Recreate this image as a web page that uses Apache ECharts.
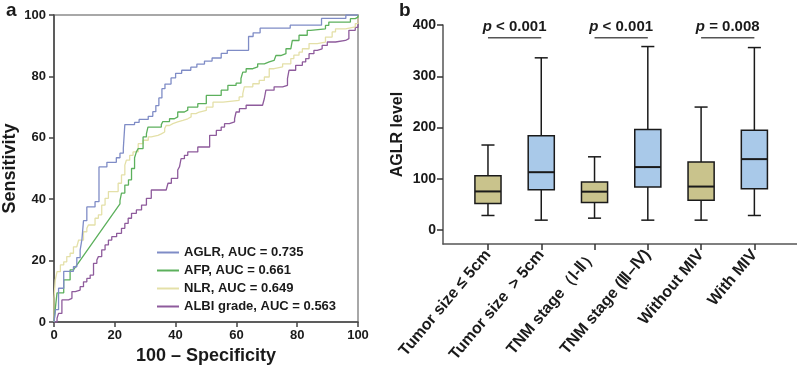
<!DOCTYPE html>
<html><head><meta charset="utf-8">
<script src="https://cdn.jsdelivr.net/npm/echarts@6/dist/echarts.min.js"></script>
<style>html,body{margin:0;padding:0;background:#fff}#c{width:797px;height:372px}</style>
</head><body><div id="c"></div>
<script>
// ---------- Panel a: ROC curves (100 - specificity, sensitivity) ----------
const rocNames = ['AGLR, AUC = 0.735', 'AFP, AUC = 0.661', 'NLR, AUC = 0.649', 'ALBI grade, AUC = 0.563'];
const rocTicks = [0, 20, 40, 60, 80, 100];
const aglr = [[0,0],[0.5,0],[0.5,4],[1.5,4],[1.5,11],[3.2,11],[3.2,16.5],[6.4,16.5],[6.4,18],[7.5,18],[7.5,21],[8.6,21],[8.6,23.4],[9.2,23.4],[9.2,27],[9.7,27],[9.7,33],[10.8,33],[10.8,37.5],[13.5,37.5],[13.5,39.2],[14.8,39.2],[14.8,50.5],[17.4,50.5],[17.4,52],[20.5,52],[20.5,53.5],[21.7,53.5],[21.7,55],[22.8,55],[22.8,56.5],[23.3,56.5],[23.3,64.3],[26.5,64.3],[26.5,65],[28,65],[28,66],[31,66],[31,67],[32.5,67],[32.5,68.5],[33.5,68.5],[33.5,70.5],[34.5,70.5],[34.5,73],[35.5,73],[35.5,76],[36.5,76],[36.5,77.5],[38.5,77.5],[38.5,79.5],[40,79.5],[40,81],[42,81],[42,82],[45,82],[45,83],[47,83],[47,84],[49.5,84],[49.5,85],[52,85],[52,86],[55,86],[55,87.5],[57,87.5],[57,88.5],[64,88.5],[64,93],[65.5,93],[65.5,94.2],[67.8,94.2],[67.8,95.7],[77.7,95.7],[77.7,96.7],[88,96.7],[88,98.9],[96,98.9],[96,100],[100,100]];
const afp = [[0,0],[0.5,0],[0.5,5],[1,5],[1,9.5],[3.2,9.5],[3.2,13.7],[5.3,13.7],[5.3,17],[6.4,17],[21.7,38.5],[21.7,39.5],[22.2,39.5],[22.2,42],[23.3,42],[23.3,44.6],[24.5,44.6],[24.5,46.3],[25.5,46.3],[25.5,50],[26.5,50],[26.5,53.5],[27.1,53.5],[27.1,55.4],[27.7,55.4],[27.7,56.5],[29.3,56.5],[29.3,60.3],[30.4,60.3],[30.4,61.3],[30.9,61.3],[30.9,63.5],[35.3,63.5],[35.3,64.3],[35.8,64.3],[35.8,65.3],[38,65.3],[38,66.2],[39.6,66.2],[39.6,66.8],[40.7,66.8],[40.7,68.4],[42.9,68.4],[42.9,69],[44,69],[44,70],[47.3,70],[47.3,71.1],[50.1,71.1],[50.1,73.8],[55,73.8],[55,75.5],[57.2,75.5],[57.2,77.1],[59.9,77.1],[59.9,77.8],[61.5,77.8],[61.5,79.3],[62.1,79.3],[62.1,81.4],[63.2,81.4],[63.2,82.5],[65.4,82.5],[65.4,83.1],[67,83.1],[67,84.1],[69.2,84.1],[69.2,84.7],[70.8,84.7],[70.8,85.2],[72.4,85.2],[72.4,85.8],[73,85.8],[73,86.8],[74.6,86.8],[74.6,87.4],[76.3,87.4],[76.3,89],[77.9,89],[77.9,89.6],[78.4,89.6],[78.4,91.7],[80.6,91.7],[80.6,93.4],[83.3,93.4],[83.3,95],[84.4,95],[84.4,95.5],[89.3,95.5],[89.3,96.6],[90.4,96.6],[90.4,97.7],[97.5,97.7],[97.5,98.8],[99.1,98.8],[99.1,99.3],[100,99.3],[100,100]];
const nlr = [[0,0],[0,7.7],[0.4,7.7],[0.4,13.6],[1,13.6],[1,16.4],[2.1,16.4],[2.1,18.6],[3.2,18.6],[3.2,19.6],[4.2,19.6],[4.2,21.3],[5.3,21.3],[5.3,22.4],[6.4,22.4],[6.4,24.5],[7.5,24.5],[7.5,25],[8.1,25],[8.1,26.7],[9.7,26.7],[9.7,29.4],[10.8,29.4],[10.8,30.5],[11.3,30.5],[11.3,31.6],[13.5,31.6],[13.5,33.8],[14.6,33.8],[14.6,34.9],[15.7,34.9],[15.7,38.1],[16.8,38.1],[16.8,40.3],[17.9,40.3],[17.9,42.5],[21.1,42.5],[21.1,45.2],[22.2,45.2],[22.2,47.9],[23.3,47.9],[23.3,51.1],[23.8,51.1],[23.8,52.7],[24.9,52.7],[24.9,54.3],[26,54.3],[26,55.4],[27.7,55.4],[27.7,58.1],[29.3,58.1],[29.3,59.2],[31,59.2],[31,60.3],[32,60.3],[32,60.8],[34.2,60.8],[34.2,61.3],[35.3,61.3],[35.3,61.9],[36.4,61.9],[36.4,63],[36.9,63],[36.9,64],[38,64],[38,64.6],[39.1,64.6],[39.1,65.2],[40.7,65.2],[40.7,65.7],[42.4,65.7],[42.4,66.2],[44,66.2],[44,66.8],[45.1,66.8],[45.1,67.9],[46.7,67.9],[46.7,68.4],[47.8,68.4],[47.8,68.9],[50.1,68.9],[50.1,70],[52.3,70],[52.3,71.6],[55.6,71.6],[55.6,72.2],[60.9,72.2],[60.9,73.3],[62.1,73.3],[62.1,74.4],[62.6,74.4],[62.6,76.6],[65.4,76.6],[65.4,77.6],[67.5,77.6],[67.5,78.7],[69.2,78.7],[69.2,79.8],[70.8,79.8],[70.8,82.5],[72.4,82.5],[72.4,83.1],[75.2,83.1],[75.2,84.1],[77.9,84.1],[77.9,85.8],[78.9,85.8],[78.9,86.9],[80.6,86.9],[80.6,87.9],[81.7,87.9],[81.7,89],[83.9,89],[83.9,90.7],[86.6,90.7],[86.6,91.2],[89.3,91.2],[89.3,92.8],[91.5,92.8],[91.5,94.5],[92.6,94.5],[92.6,95.5],[95.9,95.5],[95.9,96.1],[99.1,96.1],[99.1,97.2],[100,97.2],[100,100]];
const albi = [[0,0],[1,0],[1,1.2],[1.5,1.2],[1.5,2.8],[2.6,2.8],[2.6,7.2],[4.8,7.2],[4.8,7.7],[5.9,7.7],[5.9,9.9],[7,9.9],[7,10.4],[8.6,10.4],[8.6,11.5],[9.7,11.5],[9.7,13.1],[10.8,13.1],[10.8,14.2],[11.9,14.2],[11.9,15.3],[13,15.3],[13,19.1],[14.1,19.1],[14.1,20.2],[14.6,20.2],[14.6,21.3],[15.7,21.3],[15.7,23.5],[16.8,23.5],[16.8,25.1],[17.9,25.1],[17.9,26.7],[19,26.7],[19,27.8],[20.6,27.8],[20.6,28.9],[22.2,28.9],[22.2,30.5],[23.3,30.5],[23.3,32.1],[24.4,32.1],[24.4,33.8],[25.5,33.8],[25.5,35.4],[27.1,35.4],[27.1,36.5],[28.8,36.5],[28.8,38.1],[30.4,38.1],[30.4,40.3],[32,40.3],[32,43],[36.9,43],[36.9,43.5],[37.5,43.5],[37.5,45.2],[38.6,45.2],[38.6,46.8],[40.7,46.8],[40.7,49.5],[41.3,49.5],[41.3,50.6],[41.8,50.6],[41.8,53.2],[42.9,53.2],[42.9,54.3],[44,54.3],[44,55.4],[47.3,55.4],[47.3,57],[51.2,57],[51.2,60.8],[53.4,60.8],[53.4,62.4],[55,62.4],[55,63.5],[56.1,63.5],[56.1,64.6],[57.7,64.6],[57.7,65.2],[59.4,65.2],[59.4,66.2],[59.9,66.2],[59.9,68.4],[61,68.4],[61,69.5],[63.2,69.5],[63.2,70.6],[68.6,70.6],[68.6,71.1],[69.2,71.1],[69.2,72.8],[69.7,72.8],[69.7,75.5],[72.4,75.5],[72.4,76.6],[75.2,76.6],[75.2,77.1],[76.8,77.1],[76.8,79.3],[77.3,79.3],[77.3,82],[79.5,82],[79.5,83.6],[81.7,83.6],[81.7,84.7],[82.8,84.7],[82.8,85.8],[83.9,85.8],[83.9,87.4],[85.5,87.4],[85.5,88.5],[86.6,88.5],[86.6,89],[88.2,89],[88.2,90.1],[89.9,90.1],[89.9,91.2],[92.6,91.2],[92.6,91.7],[95.9,91.7],[95.9,92.3],[97,92.3],[97,95],[99.1,95],[99.1,96],[100,96],[100,100]];

// ---------- Panel b: AGLR level box plots ----------
const groups = ['Tumor size \u2264 5cm', 'Tumor size  > 5cm', 'TNM stage\uFF08\u2160-\u2161\uFF09', 'TNM stage (\u2162\u2013\u2163)', 'Without MIV', 'With MIV'];
const boxMin    = [28.6, 19.5, 23.4, 19.5, 19.5, 28.6];
const boxQ1     = [52, 79, 54, 84, 58.5, 80.6];
const boxMedian = [75.5, 113, 75, 123, 85, 138.5];
const boxQ3     = [106, 184, 93.7, 196.4, 133, 195];
const boxMax    = [166, 336, 143, 358, 240, 356];
const levelTicks = [0, 100, 200, 300, 400];
const pPairs  = [[0, 1], [2, 3], [4, 5]];
const pTexts  = ['< 0.001', '< 0.001', '= 0.008'];
const pLevel  = 375;

// ---------- styles ----------
const FONT = 'Liberation Sans, Arial, Helvetica, sans-serif';
const rocColors = ['#7f8cc6', '#5cb05c', '#e4e0a8', '#8e5b9c'];
const boxFill = ['#c9c38c', '#a9c9e9'];
const ink = '#1a1a1a';

const boxData = groups.map((g, i) => [i, boxMin[i], boxQ1[i], boxMedian[i], boxQ3[i], boxMax[i]]);
const pData = pPairs.map((p, i) => [p[0], p[1], pLevel, i]);

const chart = echarts.init(document.getElementById('c'), null, {renderer: 'canvas'});
const rocSeries = [aglr, afp, nlr, albi].map((d, i) => ({
  name: rocNames[i], type: 'line', xAxisIndex: 0, yAxisIndex: 0,
  data: d, symbol: 'none', showSymbol: false, animation: false,
  lineStyle: {color: rocColors[i], width: 1.3}, itemStyle: {color: rocColors[i]},
  z: 10 - i
}));

const option = {
  animation: false,
  backgroundColor: '#fff',
  title: [
    {text: 'a', left: 1, top: -4, textStyle: {fontFamily: FONT, fontWeight: 'bold', fontSize: 19, color: ink}},
    {text: 'b', left: 394, top: -4, textStyle: {fontFamily: FONT, fontWeight: 'bold', fontSize: 19, color: ink}}
  ],
  legend: {
    data: rocNames, orient: 'vertical', left: 152, top: 241,
    itemWidth: 22, itemHeight: 12, itemGap: 5,
    icon: 'path://M0,0 L22,0 L22,2 L0,2 Z',
    textStyle: {fontFamily: FONT, fontWeight: 'bold', fontSize: 13, color: ink}
  },
  grid: [
    {left: 52, top: 15, width: 306, height: 307, show: true, borderColor: '#8c8c8c', borderWidth: 1.5, containLabel: false},
    {left: 443, top: 25, right: 0, height: 219, containLabel: false}
  ],
  xAxis: [
    {gridIndex: 0, type: 'value', min: 0, max: 100, interval: 20,
     name: '100 \u2013 Specificity', nameLocation: 'middle', nameGap: 23,
     nameTextStyle: {fontFamily: FONT, fontWeight: 'bold', fontSize: 18, color: ink},
     axisLine: {onZero: false, lineStyle: {color: '#444', width: 1.5}},
     axisTick: {show: true, length: 5, lineStyle: {color: '#444', width: 1.5}},
     axisLabel: {fontFamily: FONT, fontWeight: 'bold', fontSize: 13, color: ink, margin: 7},
     splitLine: {show: false}},
    {gridIndex: 1, type: 'value', min: -0.844, max: 5.8,
     axisLine: {onZero: false, lineStyle: {color: '#555', width: 1.5}},
     axisTick: {show: true, length: 6, customValues: [0, 1, 2, 3, 4, 5], lineStyle: {color: '#333', width: 1.5}},
     axisLabel: {customValues: [0, 1, 2, 3, 4, 5], rotate: 50, margin: 8,
       formatter: v => groups[Math.round(v)] || '',
       fontFamily: FONT, fontWeight: 'bold', fontSize: 16, color: ink},
     splitLine: {show: false}}
  ],
  yAxis: [
    {gridIndex: 0, type: 'value', min: 0, max: 100, interval: 20,
     name: 'Sensitivity', nameLocation: 'middle', nameGap: 35,
     nameTextStyle: {fontFamily: FONT, fontWeight: 'bold', fontSize: 18, color: ink},
     axisLine: {show: true, onZero: false, lineStyle: {color: '#444', width: 1.5}},
     axisTick: {show: true, length: 5, lineStyle: {color: '#444', width: 1.5}},
     axisLabel: {fontFamily: FONT, fontWeight: 'bold', fontSize: 13, color: ink, margin: 8},
     splitLine: {show: false}},
    {gridIndex: 1, type: 'value', min: -27, max: 400,
     name: 'AGLR level', nameLocation: 'middle', nameGap: 37,
     nameTextStyle: {fontFamily: FONT, fontWeight: 'bold', fontSize: 16, color: ink},
     axisLine: {show: true, onZero: false, lineStyle: {color: '#555', width: 1.5}},
     axisTick: {show: true, length: 6, customValues: levelTicks, lineStyle: {color: '#333', width: 1.5}},
     axisLabel: {customValues: levelTicks, fontFamily: FONT, fontWeight: 'bold', fontSize: 14, color: ink, margin: 7},
     splitLine: {show: false}}
  ],
  series: rocSeries.concat([
    {
      type: 'custom', name: 'AGLR level', xAxisIndex: 1, yAxisIndex: 1,
      data: boxData, encode: {x: 0, y: [1, 2, 3, 4, 5]},
      renderItem: function (params, api) {
        const x = api.value(0);
        const pMin = api.coord([x, api.value(1)]);
        const pQ1 = api.coord([x, api.value(2)]);
        const pMd = api.coord([x, api.value(3)]);
        const pQ3 = api.coord([x, api.value(4)]);
        const pMax = api.coord([x, api.value(5)]);
        const bw = api.size([0.49, 0])[0];
        const cw = bw / 2;
        const cx = pMd[0];
        const st = {stroke: ink, lineWidth: 1.5, fill: null};
        return {type: 'group', children: [
          {type: 'line', shape: {x1: cx, y1: pMax[1], x2: cx, y2: pQ3[1]}, style: st},
          {type: 'line', shape: {x1: cx, y1: pQ1[1], x2: cx, y2: pMin[1]}, style: st},
          {type: 'line', shape: {x1: cx - cw / 2, y1: pMax[1], x2: cx + cw / 2, y2: pMax[1]}, style: st},
          {type: 'line', shape: {x1: cx - cw / 2, y1: pMin[1], x2: cx + cw / 2, y2: pMin[1]}, style: st},
          {type: 'rect', shape: {x: cx - bw / 2, y: pQ3[1], width: bw, height: pQ1[1] - pQ3[1]},
           style: {fill: boxFill[params.dataIndex % 2], stroke: ink, lineWidth: 1.5}},
          {type: 'line', shape: {x1: cx - bw / 2, y1: pMd[1], x2: cx + bw / 2, y2: pMd[1]}, style: {stroke: ink, lineWidth: 2}}
        ]};
      }
    },
    {
      type: 'custom', name: 'p', xAxisIndex: 1, yAxisIndex: 1,
      data: pData, encode: {x: [0, 1], y: 2},
      renderItem: function (params, api) {
        const a = api.coord([api.value(0), api.value(2)]);
        const b = api.coord([api.value(1), api.value(2)]);
        const idx = api.value(3);
        return {type: 'group', children: [
          {type: 'line', shape: {x1: a[0], y1: a[1], x2: b[0], y2: b[1]}, style: {stroke: '#555', lineWidth: 1.5}},
          {type: 'text', x: (a[0] + b[0]) / 2, y: a[1] - 3,
           style: {text: '{i|p} ' + pTexts[idx], textAlign: 'center', textVerticalAlign: 'bottom',
             font: 'bold 15px ' + FONT, fill: ink,
             rich: {i: {fontStyle: 'italic', fontWeight: 'bold', fontSize: 15, fontFamily: FONT, fill: ink, color: ink}}}}
        ]};
      }
    }
  ])
};
chart.setOption(option);
</script>
</body></html>
